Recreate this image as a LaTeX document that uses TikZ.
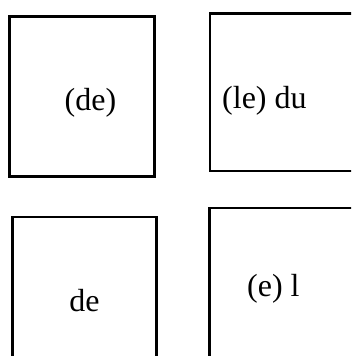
\documentclass[tikz,border=0pt]{standalone}
\usepackage{fontspec}
\setmainfont{Liberation Serif}
\usetikzlibrary{positioning}
\begin{document}
\begin{tikzpicture}[x=1pt,y=1pt]
                \tikzstyle{every node}+=[inner sep=0pt, font=\fontsize{32}{38}\selectfont]
                \tikzstyle{panel}=[draw=black, line width=2.4pt]
                \useasboundingbox (0,0) rectangle (351,-356);
                \clip (0,0) rectangle (351,-356);
                \draw [panel] (9.5,-16.5) rectangle (154.5,-176.5);
                \draw [panel] (210,-13.5) rectangle (365,-171);
                \draw [panel] (12.5,-217) rectangle (156.5,-370);
                \draw [panel] (209.5,-208) rectangle (365,-370);
                \node [anchor=base] (dea) at (90.5,-110) {(de)};
                \node [anchor=base west] (ledu) at (222,-108) {(le) du};
                \node [anchor=base] (deb) at (84.5,-311) {de};
                \node [anchor=base west] (el) at (247,-296) {(e) l};
            \end{tikzpicture}
\end{document}
